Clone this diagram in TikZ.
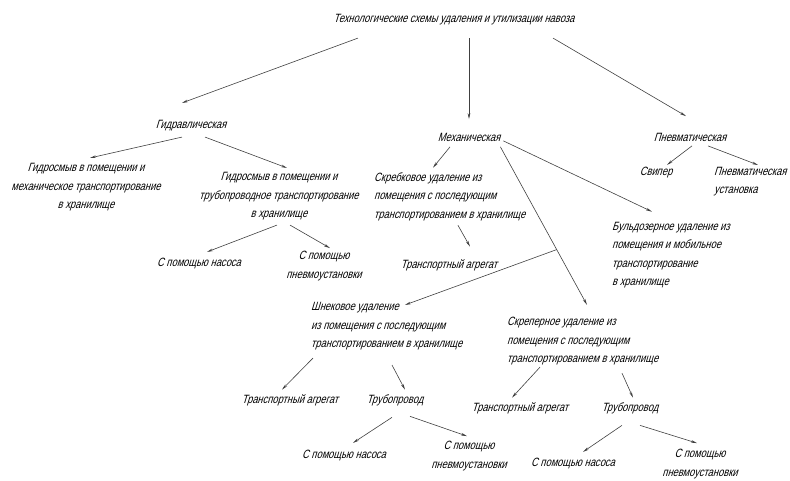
\documentclass[tikz,border=0pt]{standalone}
\usepackage{fontspec}
\setmainfont[FakeSlant=0.3,FakeStretch=0.78]{Liberation Sans}
\usetikzlibrary{arrows.meta}

\tikzset{
  lbl/.style={font=\fontsize{12}{18.5}\selectfont, inner sep=1pt, align=center, text=black},
  lbll/.style={lbl, align=left, anchor=west},
  arr/.style={->, line width=0.6pt, draw=black!75}
}

\begin{document}
\begin{tikzpicture}[x=1pt, y=-1pt, >={Stealth[length=6pt,width=2.6pt]}]
        \useasboundingbox (0,0) rectangle (790,480);

        % Top level
        \node[lbl] (title) at (454,20) {Технологические схемы удаления и утилизации навоза};
        \node[lbl] (hydro) at (191,126) {Гидравлическая};
        \node[lbl] (mech) at (469,137) {Механическая};
        \node[lbl] (pneu) at (690,137) {Пневматическая};

        \draw[arr] ([shift={(-96,11.5)}]title.south) -- ([shift={(-9,-16.5)}]hydro.north);
        \draw[arr] ([shift={(15,11.5)}]title.south) -- ([shift={(0,-12.5)}]mech.north);
        \draw[arr] ([shift={(99,11.5)}]title.south) -- ([shift={(-4,-15.5)}]pneu.north);

        % Hydraulic branch
        \node[lbl] (hydroMech) at (86,187.5) {Гидросмыв в помещении и\\механическое транспортирование\\в хранилище};
        \node[lbl] (hydroPipe) at (279,196.5) {Гидросмыв в помещении и\\трубопроводное транспортирование\\в хранилище};
        \node[lbl] (hydroPump) at (199,263) {С помощью насоса};
        \node[lbl] (hydroAir) at (324,266) {С помощью\\пневмоустановки};

        \draw[arr] ([shift={(-9,4.5)}]hydro.south) -- ([shift={(4,-4.5)}]hydroMech.north);
        \draw[arr] ([shift={(14,4.5)}]hydro.south) -- ([shift={(8,-3.5)}]hydroPipe.north);
        \draw[arr] ([shift={(-2,3.5)}]hydroPipe.south) -- ([shift={(8,-4.5)}]hydroPump.north);
        \draw[arr] ([shift={(11,3.5)}]hydroPipe.south) -- ([shift={(6,-2)}]hydroAir.north);

        % Mechanical branch
        \node[lbll] (scrape) at (373,196.5) {Скребковое удаление из\\помещения с последующим\\транспортированием в хранилище};
        \node[lbl] (scrapeTruck) at (449,265) {Транспортный агрегат};
        \node[lbll] (dozer) at (611,255) {Бульдозерное удаление из\\помещения и мобильное\\транспортирование\\в хранилище};
        \node[lbll] (auger) at (310,326.5) {Шнековое удаление\\из помещения с последующим\\транспортированием в хранилище};
        \node[lbll] (scraper) at (506,341.5) {Скреперное удаление из\\помещения с последующим\\транспортированием в хранилище};

        \draw[arr] ([shift={(-19,4.5)}]mech.south) -- ([shift={(60,-3.5)}]scrape.north west);
        \draw[arr] ([shift={(85,3.5)}]scrape.south west) -- ([shift={(21,-11.5)}]scrapeTruck.north);
        \draw[arr] ([shift={(2,-1.5)}]mech.south east) -- ([shift={(41,-9)}]dozer.north west);
        \draw[arr] ([shift={(-1,4.5)}]mech.south east) -- coordinate[pos=0.65] (split) ([shift={(81,-11.5)}]scraper.north west);
        \draw[arr] (split) -- ([shift={(95,3.5)}]auger.north west);

        % Auger sub-tree
        \node[lbl] (augerTruck) at (290,400) {Транспортный агрегат};
        \node[lbl] (augerPipe) at (395,400) {Трубопровод};
        \node[lbl] (augerPump) at (344,455) {С помощью насоса};
        \node[lbl] (augerAir) at (469,456) {С помощью\\пневмоустановки};

        \draw[arr] ([shift={(3,6.5)}]auger.south west) -- ([shift={(-8,-3.5)}]augerTruck.north);
        \draw[arr] ([shift={(82,13.5)}]auger.south west) -- ([shift={(10,-3.5)}]augerPipe.north);
        \draw[arr] ([shift={(-3,10.5)}]augerPipe.south) -- ([shift={(9,-5.5)}]augerPump.north);
        \draw[arr] ([shift={(15,9.5)}]augerPipe.south) -- ([shift={(-2,-4)}]augerAir.north);

        % Scraper sub-tree
        \node[lbl] (scraperTruck) at (520,408) {Транспортный агрегат};
        \node[lbl] (scraperPipe) at (630,408) {Трубопровод};
        \node[lbl] (scraperPump) at (573,463) {С помощью насоса};
        \node[lbl] (scraperAir) at (700,464) {С помощью\\пневмоустановки};

        \draw[arr] ([shift={(34,0.5)}]scraper.south west) -- ([shift={(-8,-3.5)}]scraperTruck.north);
        \draw[arr] ([shift={(116,6.5)}]scraper.south west) -- ([shift={(3,-3.5)}]scraperPipe.north);
        \draw[arr] ([shift={(-8,10.5)}]scraperPipe.south) -- ([shift={(10,-4.5)}]scraperPump.north);
        \draw[arr] ([shift={(10,10.5)}]scraperPipe.south) -- ([shift={(-3,-5)}]scraperAir.north);

        % Pneumatic branch
        \node[lbl] (sweeper) at (656,173) {Свипер};
        \node[lbll] (pneuUnit) at (713,181.5) {Пневматическая\\установка};

        \draw[arr] ([shift={(2,3.5)}]pneu.south) -- ([shift={(11,-1.5)}]sweeper.north);
        \draw[arr] ([shift={(18,3.5)}]pneu.south) -- ([shift={(45,-0.7)}]pneuUnit.north west);
    \end{tikzpicture}
\end{document}
